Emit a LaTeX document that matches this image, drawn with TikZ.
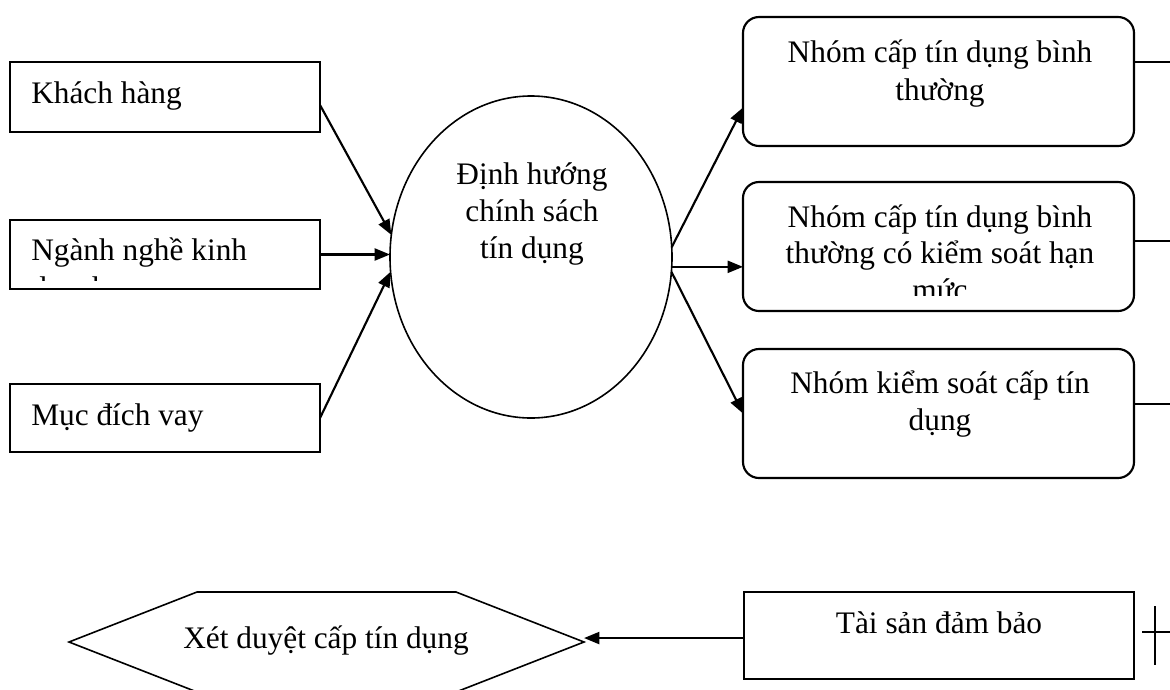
\documentclass[tikz,border=0pt]{standalone}
\usepackage{fontspec}
\setmainfont{Liberation Serif}
\usetikzlibrary{shapes.geometric,arrows.meta}
\begin{document}
\begin{tikzpicture}[x=0.75pt,y=-0.75pt,
  box/.style={draw, line width=1.6pt, minimum width=310*0.75pt, inner sep=0pt, outer sep=0pt},
  rbox/.style={draw, line width=1.6pt, rounded corners=12pt, minimum width=391*0.75pt, minimum height=129*0.75pt, inner sep=0pt, outer sep=0pt},
  txt/.style={inner sep=0pt, font=\fontsize{23.5pt}{28.5pt}\selectfont},
  arr/.style={line width=1.6pt, -{Triangle[length=11.5pt,width=9pt]}},
  plain/.style={line width=1.3pt}
]
\clip (0,0) rectangle (1170,689);
\fill[white] (0,0) rectangle (1170,689);

% left boxes
\node[box, minimum height=70*0.75pt] (k) at (165,97) {};
\node[txt, anchor=base west] (kt) at (31,103) {Khách hàng};
\node[box, minimum height=69*0.75pt] (n) at (165,254.5) {};
\begin{scope}
  \clip (10,220) rectangle (320,280);
  \node[txt, anchor=base west] (nt1) at (31,260) {Ngành nghề kinh};
  \node[txt, anchor=base west] (nt2) at (31,298) {doanh};
\end{scope}
\node[box, minimum height=68*0.75pt] (m) at (165,418) {};
\node[txt, anchor=base west] (mt) at (31,425) {Mục đích vay};

% ellipse
\node[draw, ellipse, line width=1.2pt, minimum width=282*0.75pt, minimum height=322*0.75pt, inner sep=0pt, outer sep=0pt] (e) at (531,257) {};
\node[txt, anchor=base] (e1) at (532,184) {Định hướng};
\node[txt, anchor=base] (e2) at (532,221) {chính sách};
\node[txt, anchor=base] (e3) at (532,258) {tín dụng};

% right boxes
\node[rbox] (r1) at (938.5,81.5) {};
\node[txt, anchor=base] (r1a) at (940,62) {Nhóm cấp tín dụng bình};
\node[txt, anchor=base] (r1b) at (940,100) {thường};
\node[rbox] (r2) at (938.5,246.5) {};
\begin{scope}
  \clip (743,182) rectangle (1134,295);
  \node[txt, anchor=base] (r2a) at (940,227) {Nhóm cấp tín dụng bình};
  \node[txt, anchor=base] (r2b) at (940,263) {thường có kiểm soát hạn};
  \node[txt, anchor=base] (r2c) at (940,300) {mức};
\end{scope}
\node[rbox] (r3) at (938.5,413.5) {};
\node[txt, anchor=base] (r3a) at (940,393) {Nhóm kiểm soát cấp tín};
\node[txt, anchor=base] (r3b) at (940,430) {dụng};

% arrows left -> ellipse
\draw[arr] ([yshift=-6pt]k.east) -- (e.171);
\draw[arr] (n.east) -- (n.east -| e.west);
\draw[arr] (m.east) -- (e.186);

% arrows ellipse -> right
\draw[arr] (e.4) -- ([yshift=-19.5pt]r1.west);
\draw[arr] (e.-4) -- (e.-4 -| r2.west);
\draw[arr] (e.-6) -- (r3.west);

% lines leaving right boxes
\coordinate (o1) at (1170,62);
\coordinate (o2) at (1170,241);
\coordinate (o3) at (1170,404);
\draw[plain] (r1.east |- o1) -- (o1);
\draw[plain] (r2.east |- o2) -- (o2);
\draw[plain] (r3.east |- o3) -- (o3);

% bottom
\node[box, minimum width=390*0.75pt, minimum height=87*0.75pt] (tb) at (939,635.5) {};
\node[txt, anchor=base] (tbt) at (939,633) {Tài sản đảm bảo};

\draw[line width=1.2pt] (69,642) -- (197,592) -- (456,592) -- (584,642) -- (456,692) -- (197,692) -- cycle;
\draw[line width=1.6pt] (197,592) -- (456,592);
\coordinate (hxe) at (584,642);
\node[txt, anchor=base] (hx) at (326,648) {Xét duyệt cấp tín dụng};

\coordinate (ta) at ([yshift=-1.9pt]tb.west);
\draw[arr] (ta) -- (ta -| hxe);

% cross
\coordinate (cv1) at (1155,606);
\coordinate (cv2) at (1155,665);
\coordinate (ch1) at (1142,632);
\coordinate (ch2) at (1170,632);
\draw[plain] (cv1) -- (cv2);
\draw[plain] (ch1) -- (ch2);
\end{tikzpicture}
\end{document}
